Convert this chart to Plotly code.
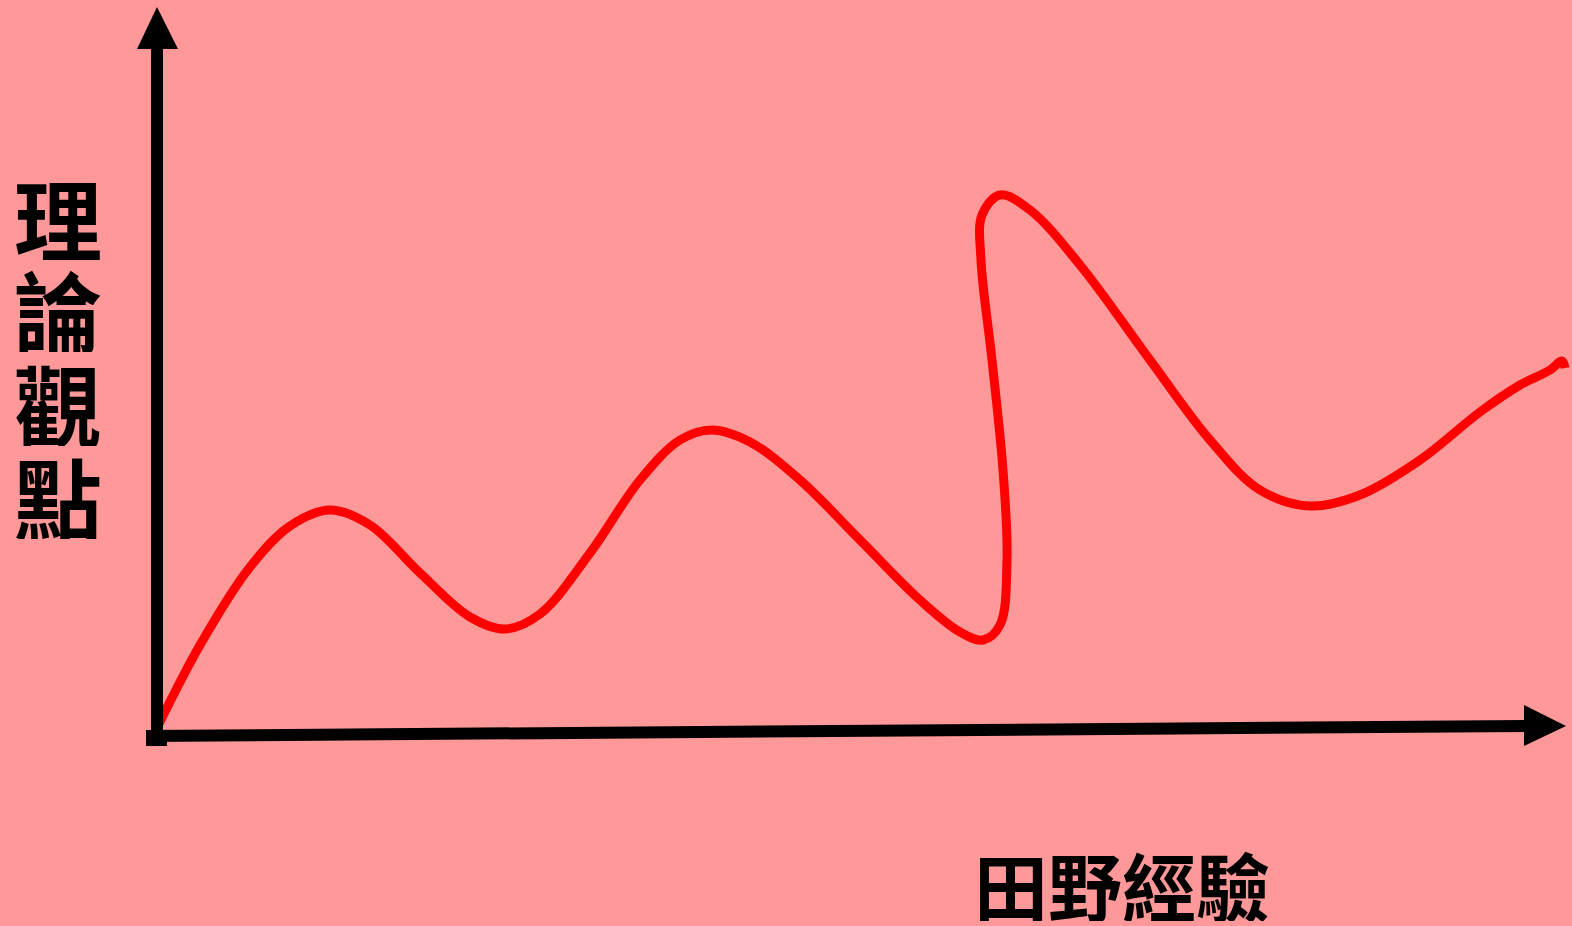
import plotly.graph_objects as go

# Curve (hand-drawn path, in a 1572x926 canvas frame, y downwards)
curve_x = [157, 200, 250, 290, 330, 370, 420, 470, 505, 540, 590, 640, 680, 712,
           750, 800, 860, 920, 960, 983, 1000, 1007, 1003, 992, 981, 982, 1000,
           1030, 1080, 1150, 1210, 1260, 1310, 1360, 1420, 1480, 1520, 1550, 1562, 1565]
curve_y = [728, 645, 567, 526, 510, 525, 573, 617, 629, 614, 553, 480, 440, 430,
           442, 480, 540, 600, 632, 640, 625, 560, 470, 360, 260, 215, 195,
           210, 265, 360, 440, 490, 506, 495, 460, 412, 385, 370, 361, 368]

y_label_chars = ["理", "論", "觀", "點"]
y_label_pos = [215, 307, 401, 494]
x_label = "田野經驗"

BG = "#FF9999"
FONT = "Noto Sans CJK TC"

fig = go.Figure()
fig.add_trace(go.Scatter(
    x=curve_x, y=curve_y, mode="lines",
    line=dict(color="#FF0000", width=9, shape="spline", smoothing=1.0),
    hoverinfo="skip", showlegend=False,
))

shapes = [
    # vertical axis
    dict(type="line", x0=157, y0=746, x1=157, y1=44, line=dict(color="black", width=12)),
    # horizontal axis
    dict(type="line", x0=146, y0=736, x1=1528, y1=726, line=dict(color="black", width=12)),
    # origin nub
    dict(type="rect", x0=146, y0=730, x1=167, y1=746, fillcolor="black", line=dict(width=0)),
    # up arrow head
    dict(type="path", path="M 137 49 L 178 49 L 157 7 Z", fillcolor="black", line=dict(width=0)),
    # right arrow head
    dict(type="path", path="M 1524 705 L 1524 746 L 1566 726 Z", fillcolor="black", line=dict(width=0)),
]

annotations = []
for ch, yy in zip(y_label_chars, y_label_pos):
    annotations.append(dict(
        x=58, y=yy, text=ch, showarrow=False, xanchor="center", yanchor="middle",
        height=90,
        font=dict(family=FONT, size=88, color="black", weight="bold"),
    ))
annotations.append(dict(
    x=1122, y=883, text=x_label, showarrow=False, xanchor="center", yanchor="middle",
    height=76,
    font=dict(family=FONT, size=74, color="black", weight="bold"),
))

fig.update_layout(
    width=1572, height=926,
    margin=dict(l=0, r=0, t=0, b=0),
    paper_bgcolor=BG, plot_bgcolor=BG,
    xaxis=dict(range=[0, 1572], visible=False, fixedrange=True),
    yaxis=dict(range=[926, 0], visible=False, fixedrange=True),
    shapes=shapes, annotations=annotations,
    showlegend=False,
)

fig.write_html(
    "out.html",
    config={"displayModeBar": False},
    post_script="document.body.style.margin='0';document.body.style.background='#FF9999';",
)
